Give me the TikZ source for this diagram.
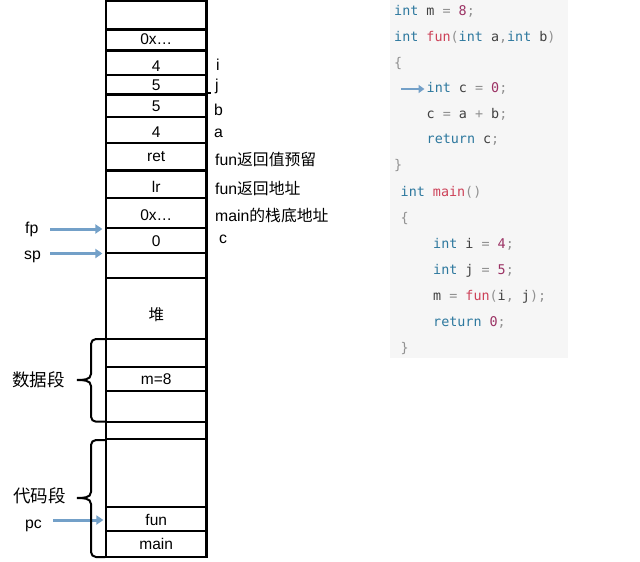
\documentclass[tikz,border=0pt]{standalone}
\usepackage{fontspec}
\setmainfont{Liberation Sans}
\newfontfamily\cjk{Noto Sans CJK SC}
\newfontfamily\codefont{DejaVu Sans Mono}
\usetikzlibrary{arrows.meta}
\definecolor{kwc}{RGB}{45,120,158}
\definecolor{numc}{RGB}{155,50,100}
\definecolor{fnc}{RGB}{205,65,88}
\definecolor{opc}{RGB}{145,145,145}
\definecolor{idc}{RGB}{65,65,65}
\definecolor{codebg}{RGB}{246,246,246}
\definecolor{ptrc}{RGB}{115,160,200}
\newcommand\ckw[1]{\textcolor{kwc}{#1}}
\newcommand\cnum[1]{\textcolor{numc}{#1}}
\newcommand\cfn[1]{\textcolor{fnc}{#1}}
\newcommand\cop[1]{\textcolor{opc}{#1}}
\newcommand\cid[1]{\textcolor{idc}{#1}}
\begin{document}
\begin{tikzpicture}[x=1pt,y=-1pt,
  cell/.style={draw=black, line width=2.2pt, minimum width=100.5pt, inner sep=0pt,
    text height=11.1pt, text depth=0pt, font=\fontsize{15.5}{18}\selectfont},
  lbl/.style={inner sep=0pt, anchor=base west, font=\fontsize{15.8}{18}\selectfont},
  seg/.style={inner sep=0pt, font=\cjk\fontsize{17.5}{20}\selectfont},
  ptr/.style={draw=ptrc, line width=3pt, -{Triangle[length=7pt,width=9pt]}},
  brace/.style={draw=black, line width=2pt, line cap=round},
  code/.style={anchor=base west, inner sep=0pt, font=\codefont\fontsize{13.4}{16}\selectfont}]
\fill[white] (0,0) rectangle (640,562);
\useasboundingbox (0,0) rectangle (640,562);
% code background
\fill[codebg] (390,0) rectangle (568,358);
% memory column
\node[cell, minimum height=28.5pt] (c1) at (156.25,15.25) {};
\node[cell, minimum height=21pt] (c2) at (156.25,40) {\raisebox{1.5pt}{0x…}};
\node[cell, minimum height=24.5pt] (c3) at (156.25,62.75) {\raisebox{-2.7pt}{4}};
\node[cell, minimum height=19.5pt] (c4) at (156.25,84.75) {5};
\node[cell, minimum height=22.5pt] (c5) at (156.25,105.75) {5};
\node[cell, minimum height=26.3pt] (c6) at (156.25,130.15) {\raisebox{-2pt}{4}};
\node[cell, minimum height=27.2pt] (c7) at (156.25,156.9) {\raisebox{1pt}{ret}};
\node[cell, minimum height=27.5pt] (c8) at (156.25,184.25) {\raisebox{-2.7pt}{lr}};
\node[cell, minimum height=29.7pt] (c9) at (156.25,212.85) {\raisebox{-2pt}{0x…}};
\node[cell, minimum height=25.6pt] (c10) at (156.25,240.5) {0};
\node[cell, minimum height=24.7pt] (c11) at (156.25,265.65) {};
\node[cell, minimum height=61pt] (c12) at (156.25,308.5) {\raisebox{-6.3pt}{\cjk 堆}};
\node[cell, minimum height=28.3pt] (c13) at (156.25,353.15) {};
\node[cell, minimum height=23.4pt] (c14) at (156.25,379) {m=8};
\node[cell, minimum height=31pt] (c15) at (156.25,406.2) {};
\node[cell, minimum height=17pt] (c16) at (156.25,430.2) {};
\node[cell, minimum height=68pt] (c17) at (156.25,472.7) {};
\node[cell, minimum height=24.3pt] (c18) at (156.25,518.85) {\raisebox{-1pt}{fun}};
\node[cell, minimum height=25.7pt] (c19) at (156.25,543.85) {main};
\draw[line width=2pt] (c5.north east) -- ++(3,0);
% right labels
\node[lbl] (li) at (216,70) {i};
\node[lbl] (lj) at (215,90) {j};
\node[lbl] (lb) at (214,115.7) {b};
\node[lbl] (la) at (214,137.3) {a};
\node[lbl] (lret) at (215,165) {fun{\cjk 返回值预留}};
\node[lbl] (llr) at (215,194.3) {fun{\cjk 返回地址}};
\node[lbl] (lfp) at (215,221.7) {main{\cjk 的栈底地址}};
\node[lbl] (lc) at (219,243.3) {c};
% left labels
\node[lbl] (fp) at (25,233.5) {fp};
\node[lbl] (sp) at (24,259.5) {sp};
\node[lbl] (pc) at (25,528.5) {pc};
\node[seg] (data) at (38.5,379.5) {数据段};
\node[seg] (text) at (39.5,495.5) {代码段};
% pointers
\coordinate (fpa) at (50,229);
\coordinate (spa) at (50,253.5);
\coordinate (pca) at (53,520);
\draw[ptr, shorten >=2.5pt] (fpa) -- (fpa -| c10.west);
\draw[ptr, shorten >=2.5pt] (spa) -- (spa -| c11.west);
\draw[ptr, shorten >=1.5pt] (pca) -- (pca -| c18.west);
% braces
\draw[brace] (105,339) -- (96,339) to[out=180,in=90] (91,344) -- (91,374)
  to[out=270,in=0] (77,380) to[out=0,in=90] (91,386) -- (91,416.7)
  to[out=270,in=180] (96,421.7) -- (105,421.7);
\draw[brace] (105,440) -- (96,440) to[out=180,in=90] (91,445) -- (91,492)
  to[out=270,in=0] (77,498) to[out=0,in=90] (91,504) -- (91,552)
  to[out=270,in=180] (96,557) -- (105,557);
% code
\node[code] (l1) at (394,16) {\ckw{int} \cid{m} \cop{=} \cnum{8}\cop{;}};
\node[code] (l2) at (394,41.5) {\ckw{int} \cfn{fun}\cop{(}\ckw{int} \cid{a}\cop{,}\ckw{int} \cid{b}\cop{)}};
\node[code] (l3) at (394,67) {\cop{\{}};
\node[code] (l4) at (426.5,92.5) {\ckw{int} \cid{c} \cop{=} \cnum{0}\cop{;}};
\node[code] (l5) at (426.5,118) {\cid{c} \cop{=} \cid{a} \cop{+} \cid{b}\cop{;}};
\node[code] (l6) at (426.5,143.5) {\ckw{return} \cid{c}\cop{;}};
\node[code] (l7) at (394,169) {\cop{\}}};
\node[code] (l8) at (400.5,196.5) {\ckw{int} \cfn{main}\cop{()}};
\node[code] (l9) at (400.5,222.5) {\cop{\{}};
\node[code] (l10) at (433,248.3) {\ckw{int} \cid{i} \cop{=} \cnum{4}\cop{;}};
\node[code] (l11) at (433,274) {\ckw{int} \cid{j} \cop{=} \cnum{5}\cop{;}};
\node[code] (l12) at (433,300) {\cid{m} \cop{=} \cfn{fun}\cop{(}\cid{i}\cop{,} \cid{j}\cop{);}};
\node[code] (l13) at (433,326) {\ckw{return} \cnum{0}\cop{;}};
\node[code] (l14) at (400.5,352) {\cop{\}}};
\coordinate (ca) at (401,89);
\draw[ptr, line width=2.6pt, -{Triangle[length=6pt,width=8pt]}, shorten >=2pt] (ca) -- (ca -| l4.west);
\end{tikzpicture}
\end{document}
